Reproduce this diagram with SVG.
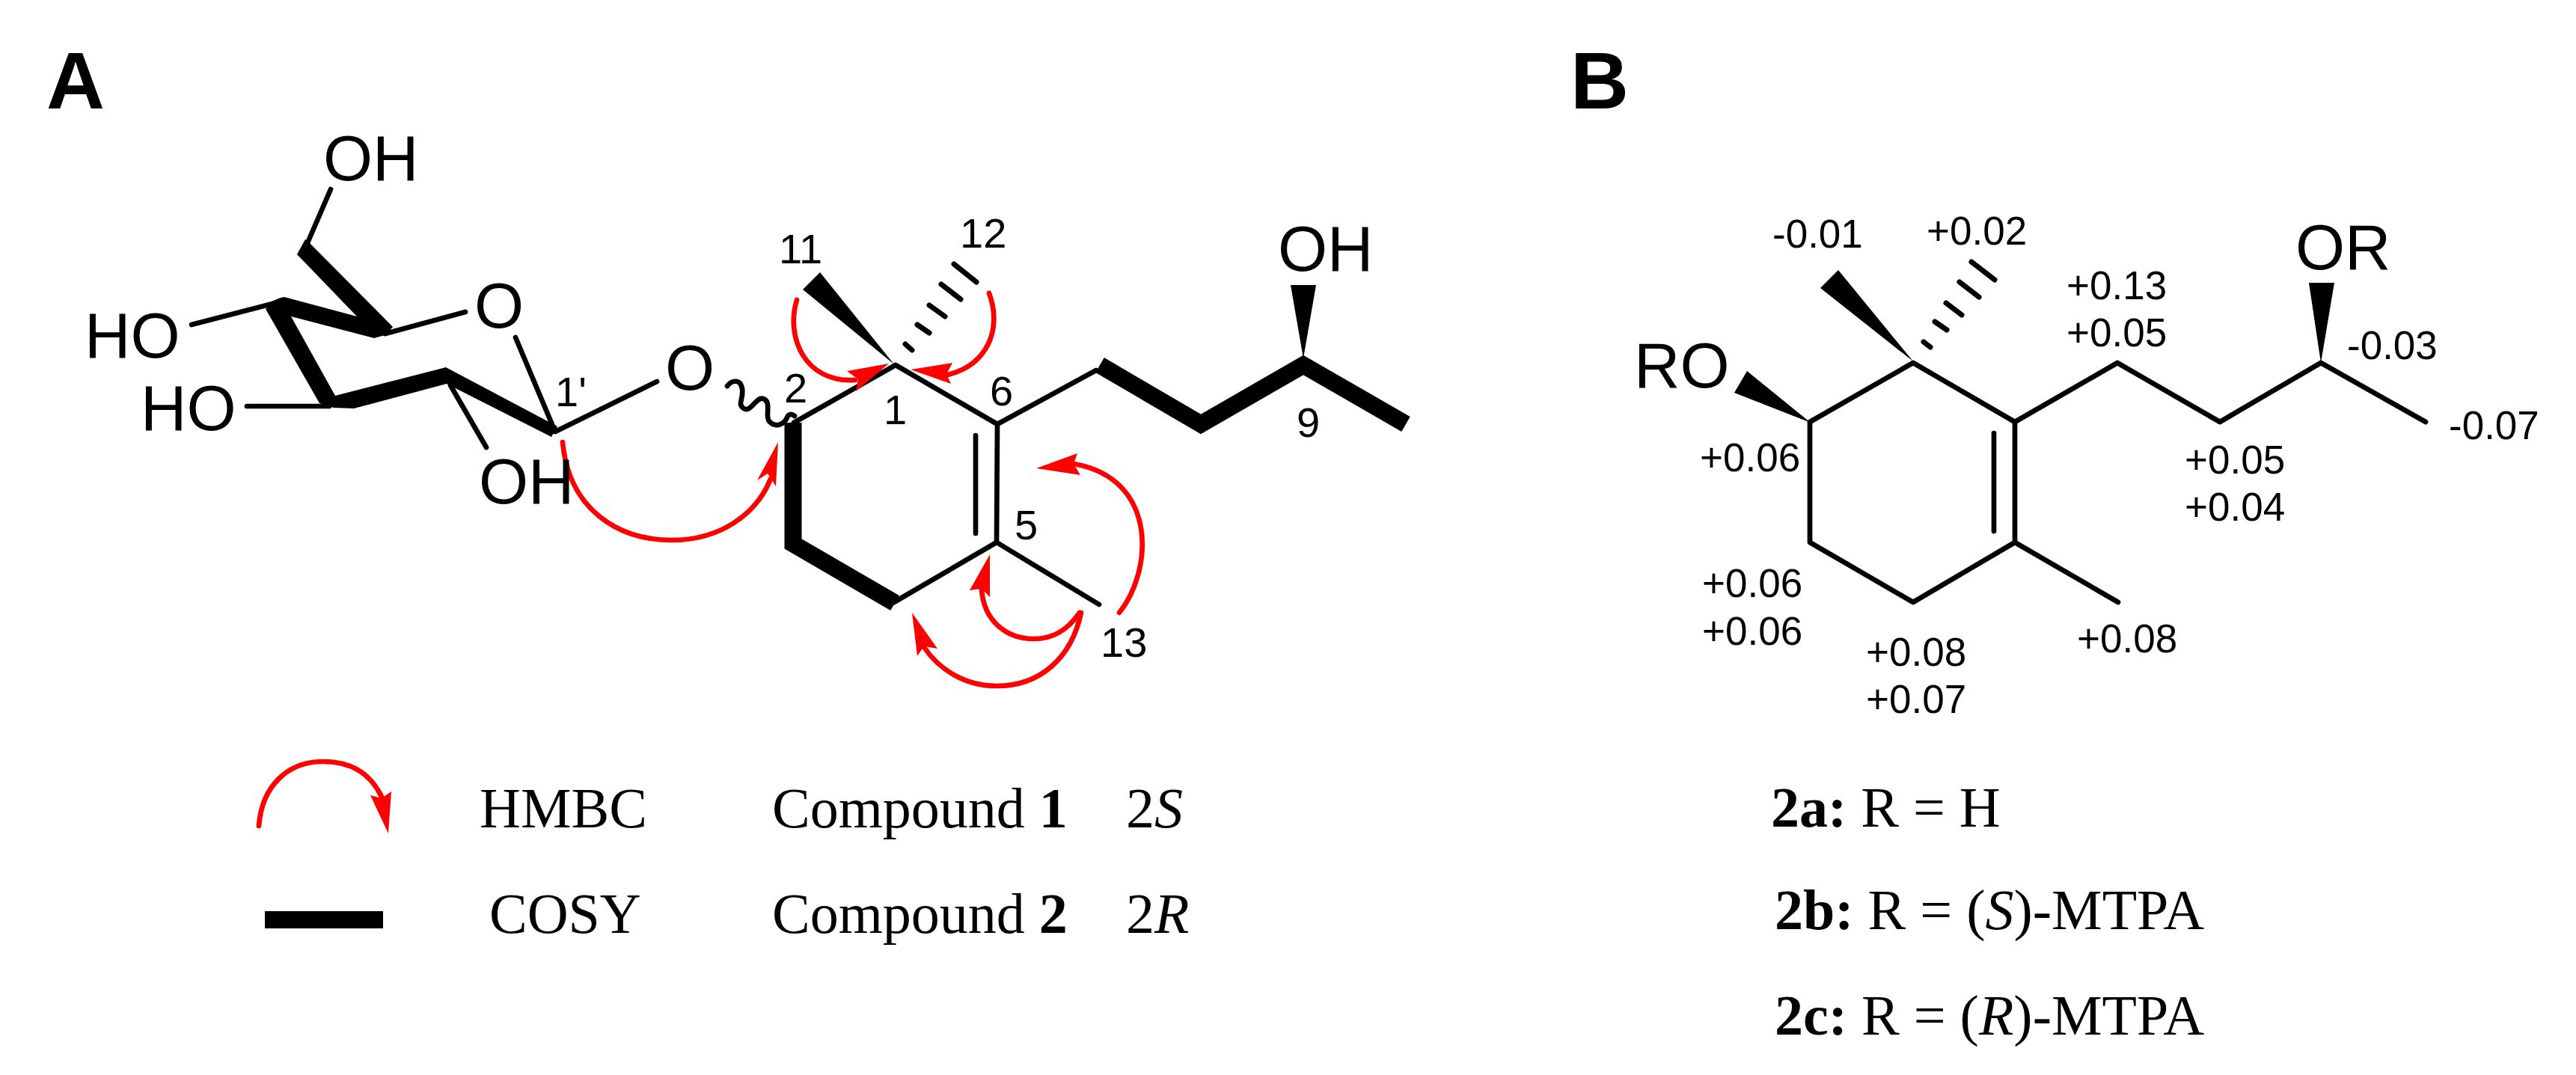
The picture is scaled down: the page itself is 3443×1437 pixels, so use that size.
<svg xmlns="http://www.w3.org/2000/svg" width="3443" height="1437" viewBox="0 0 3443 1437">
<style>
text{fill:#000}
.panel{font:bold 108px "Liberation Sans",Arial,sans-serif}
.atom{font:85px "Liberation Sans",Arial,sans-serif}
.num{font:53px "Liberation Sans",Arial,sans-serif}
.numa{font:56px "Liberation Sans",Arial,sans-serif}
.leg{font:76px "Liberation Serif","Times New Roman",serif}
.b{font-weight:bold}.i{font-style:italic}
.thin{fill:none;stroke:#000;stroke-width:6.7;stroke-linecap:round;stroke-linejoin:round}
.thick{fill:none;stroke:#000;stroke-width:23;stroke-linejoin:miter}
.hash{fill:none;stroke:#000;stroke-width:7;stroke-linecap:round}
.solid{fill:#000;stroke:none}
.arc{fill:none;stroke:#f00;stroke-width:6.7;stroke-linecap:round}
.head{fill:#f00;stroke:none}
</style>
<rect width="3443" height="1437" fill="#fff"/>
<g id="panel-a">
<text class="panel" x="62" y="145">A</text>
<g id="connectors-a">
<path class="thin" d="M442,253L407,334M515,446L622,417M689,451L742,577L878,510M256,434L368,405M330,543L440,543M602,515L650,598"/>
<polygon class="solid" points="408,320 412,323 525,437 515,448 500,452 389,423 448,529 596,491 745,570 737,584 597,513 473,546 446,545 427,539 355,413 365,402 375,398 380,397 477,423 397,340"/>
<path class="thin" d="M972,516C978,508 990,506 992,520C994,534 985,540 994,546C1004,552 1010,530 1020,533C1032,537 1022,556 1028,563C1036,572 1048,568 1052,558C1054,553 1058,553 1062,556"/>
<path class="thin" d="M1061,565L1197,488L1333,567L1332,725L1195,805M1333,567L1465,495M1332,725L1469,808M1304,582L1304,713"/>
<polyline class="thick" points="1060,565 1060,727 1196,806"/>
<polyline class="thick" points="1470,488 1605,567 1742,488 1879,567"/>
<polygon class="solid" points="1195,487 1073,387 1096,364"/>
<polygon class="solid" points="1742,479 1725,381 1759,381"/>
<path class="hash" d="M1275,353L1305,377M1258,380L1284,400M1242,408L1263,423M1226,434L1242,445M1210,460L1219,468"/>
</g>
<g id="hmbc-a">
<path class="arc" d="M752,591C760,680 825,722 898,722C960,722 1010,690 1030,640"/>
<polygon class="head" points="1040,591 1037,650 1026,633 1012,642"/>
<path class="arc" d="M1065,401C1050,450 1075,512 1143,508"/>
<polygon class="head" points="1188,486 1144,523 1147,507 1132,496"/>
<path class="arc" d="M1322,392C1340,440 1320,490 1262,502"/>
<polygon class="head" points="1217,494 1273,485 1265,500 1271,513"/>
<path class="arc" d="M1496,819C1540,765 1550,640 1435,620"/>
<polygon class="head" points="1385,626 1440,606 1435,620 1444,635"/>
<path class="arc" d="M1443,819C1425,845 1405,854 1382,854C1345,854 1315,830 1312,788"/>
<polygon class="head" points="1323,741 1323,798 1312,787 1296,789"/>
<path class="arc" d="M1445,819C1432,880 1390,917 1332,917C1290,917 1255,895 1235,865"/>
<polygon class="head" points="1219,819 1253,867 1235,864 1226,877"/>
</g>
<g id="labels-a">
<text class="atom" x="432" y="241">OH</text>
<text class="atom" x="634" y="438">O</text>
<text class="atom" x="889" y="521">O</text>
<text class="atom" x="113" y="478">HO</text>
<text class="atom" x="188" y="575">HO</text>
<text class="atom" x="640" y="673">OH</text>
<text class="atom" x="1708" y="362">OH</text>
<text class="numa" x="742" y="543">1'</text>
<text class="numa" x="1041" y="352">11</text>
<text class="numa" x="1283" y="331">12</text>
<text class="numa" x="1048" y="538">2</text>
<text class="numa" x="1181" y="567">1</text>
<text class="numa" x="1323" y="542">6</text>
<text class="numa" x="1356" y="721">5</text>
<text class="numa" x="1733" y="584">9</text>
<text class="numa" x="1471" y="878">13</text>
</g>
<g id="legend-a">
<path class="arc" d="M346,1104C350,1050 385,1018 432,1018C475,1018 498,1040 510,1065"/>
<polygon class="head" points="519,1114 495,1063 510,1067 523,1058"/>
<rect class="solid" x="354" y="1218" width="158" height="23"/>
<text class="leg" x="641" y="1106">HMBC</text>
<text class="leg" x="654" y="1247">COSY</text>
<text class="leg" x="1032" y="1106">Compound <tspan class="b">1</tspan></text>
<text class="leg" x="1032" y="1247">Compound <tspan class="b">2</tspan></text>
<text class="leg" x="1505" y="1106">2<tspan class="i">S</tspan></text>
<text class="leg" x="1505" y="1247">2<tspan class="i">R</tspan></text>
</g>
</g>
<g id="panel-b">
<text class="panel" x="2099" y="145">B</text>
<g id="connectors-b">
<path class="thin" d="M2419,564L2557,485L2693,564L2693,725L2557,805L2419,725ZM2693,564L2830,485L2967,564L3102,485L3242,564M2693,725L2831,805M2665,579L2665,710"/>
<polygon class="solid" points="2420,565 2335,496 2318,525"/>
<polygon class="solid" points="2557,483 2457,361 2433,385"/>
<polygon class="solid" points="3102,485 3086,378 3120,378"/>
<path class="hash" d="M2635,350L2666,374M2619,377L2645,397M2601,405L2622,421M2586,430L2602,441M2571,457L2580,464"/>
</g>
<g id="labels-b">
<text class="atom" x="2184" y="518">RO</text>
<text class="atom" x="3068" y="360">OR</text>
<text class="num" x="2369" y="331">-0.01</text>
<text class="num" x="2575" y="327">+0.02</text>
<text class="num" x="2762" y="400">+0.13</text>
<text class="num" x="2762" y="463">+0.05</text>
<text class="num" x="3137" y="480">-0.03</text>
<text class="num" x="3273" y="587">-0.07</text>
<text class="num" x="2272" y="630">+0.06</text>
<text class="num" x="2275" y="798">+0.06</text>
<text class="num" x="2275" y="862">+0.06</text>
<text class="num" x="2920" y="633">+0.05</text>
<text class="num" x="2920" y="696">+0.04</text>
<text class="num" x="2776" y="872">+0.08</text>
<text class="num" x="2494" y="890">+0.08</text>
<text class="num" x="2494" y="953">+0.07</text>
</g>
<g id="legend-b">
<text class="leg" x="2367" y="1105"><tspan class="b">2a:</tspan> R = H</text>
<text class="leg" x="2372" y="1242"><tspan class="b">2b:</tspan> R = (<tspan class="i">S</tspan>)-MTPA</text>
<text class="leg" x="2372" y="1383"><tspan class="b">2c:</tspan> R = (<tspan class="i">R</tspan>)-MTPA</text>
</g>
</g>
</svg>
